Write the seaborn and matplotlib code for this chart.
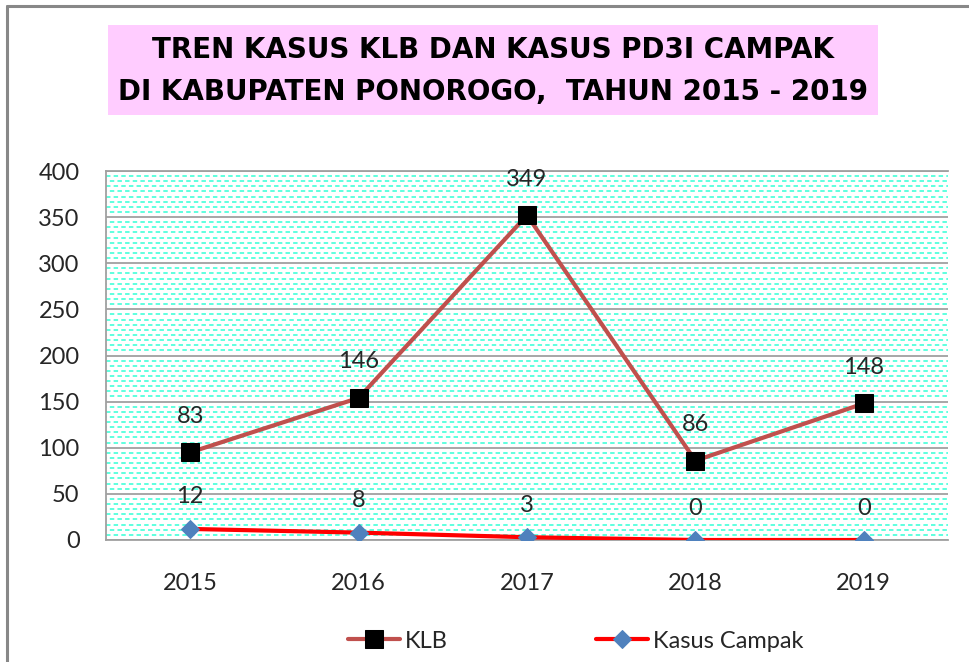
import numpy as np
import pandas as pd
import seaborn as sns
import matplotlib.pyplot as plt
from matplotlib.patches import Rectangle
from matplotlib.lines import Line2D

# Data (stacked line chart: KLB drawn on top of Kasus Campak)
years = ["2015", "2016", "2017", "2018", "2019"]
klb = [83, 146, 349, 86, 148]
campak = [12, 8, 3, 0, 0]

title = "TREN KASUS KLB DAN KASUS PD3I CAMPAK\nDI KABUPATEN PONOROGO,  TAHUN 2015 - 2019"

klb_stacked = [k + c for k, c in zip(klb, campak)]
df = pd.DataFrame({"tahun": years, "klb": klb_stacked, "campak": campak})

sns.set_theme(style="white")
plt.rcParams["font.family"] = ["Lato", "DejaVu Sans"]
plt.rcParams["lines.scale_dashes"] = False

fig = plt.figure(figsize=(9.69, 6.62), dpi=100)
ax = fig.add_axes([106 / 969, 1 - 540 / 662, 842 / 969, 369 / 662])

# dashed cyan background pattern
step = 50 / 9
for i, y in enumerate(np.arange(400 - step, 0, -step)):
    if i % 9 == 8:
        continue
    offset = 0 if i % 2 == 0 else 2.75
    ax.axhline(y, color="#33FFD6", lw=1.1, zorder=0,
               linestyle=(offset, (3.2, 2.3)), dash_capstyle="butt")

sns.lineplot(data=df, x="tahun", y="campak", ax=ax, color="#FF0000", lw=3,
             marker="D", markersize=9, markerfacecolor="#4F81BD",
             markeredgecolor="#4F81BD", label="Kasus Campak", zorder=4, legend=False)
sns.lineplot(data=df, x="tahun", y="klb", ax=ax, color="#C0504D", lw=3,
             marker="s", markersize=13, markerfacecolor="black",
             markeredgecolor="black", label="KLB", zorder=5, legend=False)

for i, (v, lab) in enumerate(zip(klb_stacked, klb)):
    ax.annotate(str(lab), (i, v), xytext=(0, 26), textcoords="offset points",
                ha="center", va="center", fontsize=17, color="#262626")
for i, v in enumerate(campak):
    ax.annotate(str(v), (i, v), xytext=(0, 23), textcoords="offset points",
                ha="center", va="center", fontsize=17, color="#262626")

ax.set_xlim(-0.5, 4.5)
ax.set_ylim(0, 400)
ax.set_yticks(range(0, 401, 50))
ax.yaxis.grid(True, color="#A0A0A0", lw=1.3)
ax.set_axisbelow(True)
ax.set_xlabel("")
ax.set_ylabel("")
ax.tick_params(axis="y", length=0, pad=19, labelsize=17, labelcolor="#262626")
ax.tick_params(axis="x", length=0, pad=24, labelsize=17, labelcolor="#262626")
for s in ["left", "bottom", "top"]:
    ax.spines[s].set_color("#A0A0A0")
    ax.spines[s].set_linewidth(1.3)
ax.spines["right"].set_visible(False)

# legend at the bottom
handles, labels = ax.get_legend_handles_labels()
order = [labels.index("KLB"), labels.index("Kasus Campak")]
fig.legend([handles[i] for i in order], [labels[i] for i in order],
           loc="center", bbox_to_anchor=(0.594, 1 - 641 / 662), ncol=2,
           frameon=False, fontsize=17, handlelength=2.2, handletextpad=0.2,
           columnspacing=6.3, labelcolor="#262626")

# title box
fig.add_artist(Rectangle((108 / 969, 1 - 115 / 662), 770 / 969, 90 / 662,
                         transform=fig.transFigure, facecolor="#FFCCFF",
                         edgecolor="none", zorder=1))
fig.text(493 / 969, 1 - 71 / 662, title, ha="center", va="center",
         fontsize=20, fontweight="bold", family="DejaVu Sans",
         linespacing=1.6, color="black", zorder=2)

# outer frame
fig.add_artist(Line2D([7 / 969, 7 / 969], [0, 1 - 6 / 662], color="#888888", lw=2.2,
                      transform=fig.transFigure))
fig.add_artist(Line2D([7 / 969, 1], [1 - 6 / 662, 1 - 6 / 662], color="#888888", lw=2.2,
                      transform=fig.transFigure))

fig.savefig("out.png", dpi=100)
